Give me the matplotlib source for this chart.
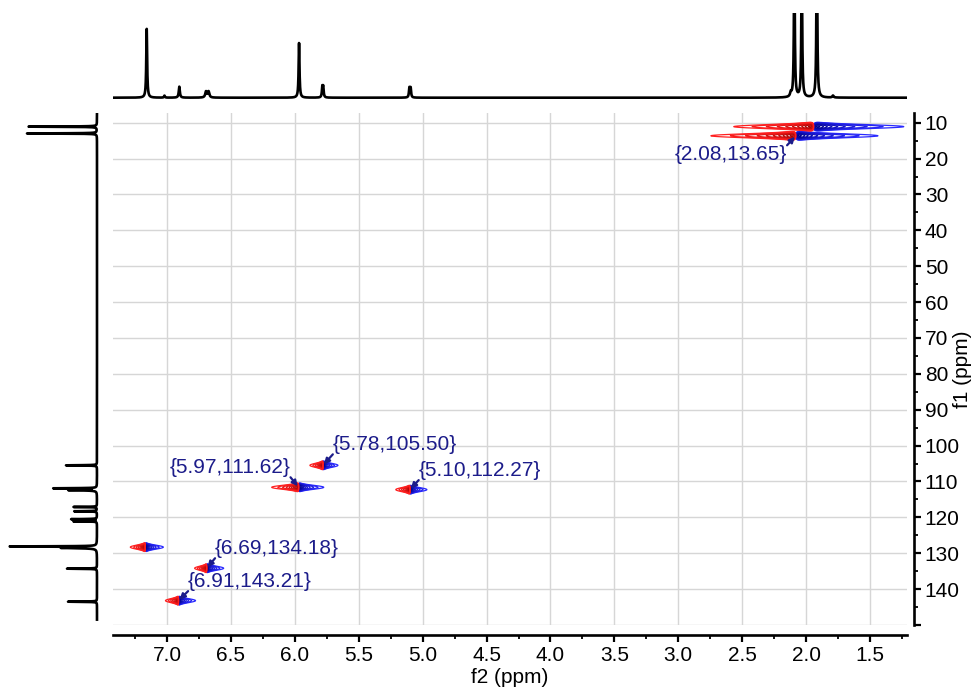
import numpy as np
import matplotlib
matplotlib.use('Agg')
import matplotlib.pyplot as plt
from matplotlib.ticker import FixedLocator, MultipleLocator, FixedFormatter

plt.rcParams['font.family'] = ['Liberation Sans', 'DejaVu Sans']

# ---------------- data ----------------
# 1H projection (top trace): peak positions (ppm), heights, half widths (ppm)
h_ppm = [7.159, 7.02, 6.904, 6.695, 6.675, 5.967, 5.785, 5.778, 5.104, 5.094, 2.12, 2.092, 2.034, 1.916, 1.79]
h_int = [69.4, 2.0, 11.0, 6.0, 6.0, 55.0, 10.0, 10.0, 9.5, 9.5, 4.0, 150.0, 140.0, 170.0, 2.0]
h_hw = [0.004, 0.004, 0.005, 0.007, 0.007, 0.004, 0.004, 0.004, 0.004, 0.004, 0.006, 0.004, 0.004, 0.004, 0.006]

# 13C projection (left trace): peak positions (ppm), heights, half widths (ppm)
c_ppm = [11.1, 13.0, 105.5, 111.9, 112.4, 117.1, 118.3, 120.5, 121.1, 128.1, 128.5, 134.3, 143.5]
c_int = [68.4, 70.0, 31.0, 42.7, 28.4, 23.4, 22.7, 25.7, 23.4, 84.4, 35.0, 30.0, 29.0]
c_hw = [0.05, 0.05, 0.05, 0.05, 0.1, 0.05, 0.05, 0.05, 0.05, 0.05, 0.12, 0.05, 0.05]

# HSQC cross peaks: f2 / f1 centres, red (negative) and blue (positive) lobe lengths in ppm
xp_f2 = [2.08, 1.94, 5.78, 5.97, 5.10, 7.17, 6.69, 6.91]
xp_f1 = [13.65, 11.1, 105.50, 111.62, 112.27, 128.3, 134.18, 143.21]
xp_red_len = [0.665, 0.626, 0.102, 0.211, 0.110, 0.117, 0.094, 0.102]
xp_blue_len = [0.642, 0.704, 0.117, 0.196, 0.133, 0.141, 0.133, 0.133]
xp_f1_sigma = 0.55

# peak labels
lab_text = ['{2.08,13.65}', '{5.78,105.50}', '{5.97,111.62}', '{5.10,112.27}', '{6.69,134.18}', '{6.91,143.21}']
lab_f2 = [2.08, 5.78, 5.97, 5.10, 6.69, 6.91]
lab_f1 = [13.65, 105.50, 111.62, 112.27, 134.18, 143.21]

x_ticks = [7.0, 6.5, 6.0, 5.5, 5.0, 4.5, 4.0, 3.5, 3.0, 2.5, 2.0, 1.5]
y_ticks = [10, 20, 30, 40, 50, 60, 70, 80, 90, 100, 110, 120, 130, 140, 150]
y_tick_labels = ['10', '20', '30', '40', '50', '60', '70', '80', '90', '100', '110', '120', '130', '140', '']

# ---------------- layout ----------------
W, H = 979, 687
fig = plt.figure(figsize=(W / 100, H / 100), dpi=100)


def rect(x0, y0, x1, y1):
    return [x0 / W, 1 - y1 / H, (x1 - x0) / W, (y1 - y0) / H]


XL = (7.425, 1.213)
YL = (150, 7.3)

ax = fig.add_axes(rect(112.7, 113, 906.7, 625))
ax_top = fig.add_axes(rect(112.7, 12.7, 906.7, 100))
ax_left = fig.add_axes(rect(0, 113, 100, 625))

navy = '#1c1c8a'

# ---------------- top 1D trace ----------------
xs = np.linspace(XL[0], XL[1], 8000)
spec = np.zeros_like(xs)
for p, h, w in zip(h_ppm, h_int, h_hw):
    spec += h * w ** 2 / ((xs - p) ** 2 + w ** 2)
ax_top.plot(xs, spec, color='k', lw=1.9, solid_joinstyle='round')
ax_top.set_xlim(*XL)
ax_top.set_ylim(-2.3, 85)
ax_top.axis('off')

# ---------------- left 1D trace ----------------
ys = np.linspace(7.3, 148.5, 40000)
cspec = np.zeros_like(ys)
for p, h, w in zip(c_ppm, c_int, c_hw):
    cspec += h * w ** 2 / ((ys - p) ** 2 + w ** 2)
ax_left.plot(cspec, ys, color='k', lw=1.9)
ax_left.set_xlim(97, -3)
ax_left.set_ylim(*YL)
ax_left.axis('off')

# ---------------- 2D contours ----------------
levels = np.geomspace(0.09, 0.93, 10)
blue_cols = [matplotlib.colors.to_hex(c) for c in
             np.linspace(matplotlib.colors.to_rgb('#2a2aff'), matplotlib.colors.to_rgb('#000090'), len(levels))]
red_cols = [matplotlib.colors.to_hex(c) for c in
            np.linspace(matplotlib.colors.to_rgb('#ff2020'), matplotlib.colors.to_rgb('#a80000'), len(levels))]


def disp(u):
    return 2 * u / (1 + u ** 2)


uext = (1 + np.sqrt(1 - levels[0] ** 2)) / levels[0]
for f2, f1, lr, lb in zip(xp_f2, xp_f1, xp_red_len, xp_blue_len):
    wr = lr / uext
    wb = lb / uext
    gx = np.linspace(f2 - 1.1 * lb, f2 + 1.1 * lr, 900)
    gy = np.linspace(f1 - 4 * xp_f1_sigma, f1 + 4 * xp_f1_sigma, 161)
    X, Y = np.meshgrid(gx, gy)
    prof = np.where(X > f2, -disp((X - f2) / wr), disp((f2 - X) / wb))
    Z = prof * np.exp(-(Y - f1) ** 2 / (2 * xp_f1_sigma ** 2))
    ax.contour(X, Y, Z, levels=levels, colors=blue_cols, linewidths=0.9)
    ax.contour(X, Y, Z, levels=-levels[::-1], colors=red_cols[::-1], linewidths=0.9,
               negative_linestyles='solid')

# ---------------- labels ----------------
offsets = [(-65, -19), (72, 20.5), (-68.6, 19.5), (70, 19), (70.4, 19.5), (71.5, 19)]
relposes = [(1, 1), (0, 0), (1, 0), (0, 0), (0, 0), (0, 0)]
for t, f2, f1, off, rp in zip(lab_text, lab_f2, lab_f1, offsets, relposes):
    ax.annotate(t, xy=(f2, f1), xytext=off, textcoords='offset pixels',
                ha='center', va='center', fontsize=15, color=navy, zorder=5,
                arrowprops=dict(arrowstyle='-|>', color=navy, lw=1.6, shrinkA=0, shrinkB=1,
                                relpos=rp, patchA=None, mutation_scale=8))

# ---------------- axes styling ----------------
ax.set_xlim(*XL)
ax.set_ylim(*YL)
ax.xaxis.set_major_locator(FixedLocator(x_ticks))
ax.xaxis.set_major_formatter(FixedFormatter([f'{v:.1f}' for v in x_ticks]))
ax.xaxis.set_minor_locator(MultipleLocator(0.25))
ax.yaxis.set_major_locator(FixedLocator(y_ticks))
ax.yaxis.set_major_formatter(FixedFormatter(y_tick_labels))
ax.yaxis.set_minor_locator(MultipleLocator(5))
ax.yaxis.tick_right()

for s in ['left', 'top']:
    ax.spines[s].set_visible(False)
ax.spines['bottom'].set_position(('outward', 7))
ax.spines['right'].set_position(('outward', 5))
for s in ['bottom', 'right']:
    ax.spines[s].set_linewidth(1.9)

ax.tick_params(which='major', direction='out', length=5, width=1.6, labelsize=15, pad=3, colors='k')
ax.tick_params(which='minor', direction='out', length=3, width=1.3)
ax.grid(True, which='major', color='#d6d6d6', lw=1.0)
ax.set_axisbelow(True)

ax.set_xlabel('f2 (ppm)', fontsize=15, labelpad=2)
fig.text(963 / W, 1 - 369 / H, 'f1 (ppm)', rotation=90, ha='center', va='center', fontsize=15)

fig.savefig('out.png', dpi=100)
